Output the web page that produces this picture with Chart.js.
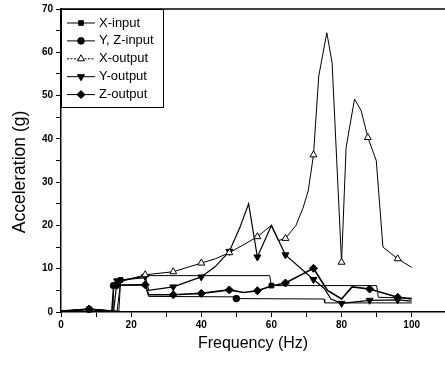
<!DOCTYPE html>
<html>
<head>
<meta charset="utf-8">
<title>Acceleration vs Frequency</title>
<script src="https://cdn.jsdelivr.net/npm/chart.js@4.4.0/dist/chart.umd.min.js"></script>
<style>
  html, body { margin: 0; padding: 0; background: #ffffff; }
  #wrap { position: relative; width: 445px; height: 366px; }
</style>
</head>
<body>
<div id="wrap"><canvas id="chart"></canvas></div>
<script>
/* Valeurs : fréquence (Hz) et accélération (g) */

// X-input (carrés, courbe en escalier)
const xInFreq = [0, 8, 15, 16.5, 17, 24, 25, 59.5, 60, 90, 90.5, 100];
const xInVal = [0.2, 0.6, 0.2, 0.2, 7.4, 7.9, 8.4, 8.4, 6.1, 6.1, 3.4, 3.2];
const xInMarks = [8, 17, 60];

// Y, Z-input (cercles, courbe en escalier)
const yzInFreq = [0, 8, 14.8, 15, 24, 25, 49.8, 50, 75, 75.2, 100];
const yzInVal = [0.2, 0.6, 0.2, 6.1, 6.3, 3.6, 3.5, 3.1, 3.0, 2.1, 2.1];
const yzInMarks = [8, 15, 50];

// X-output (triangles vides)
const xOutFreq = [0, 8, 16, 17, 24, 32, 40, 44, 48, 52, 56, 60, 62, 64, 67, 69, 70.5, 72,
  73.5, 75.8, 77.3, 80, 81.3, 83.7, 85.6, 87.5, 89.9, 91.8, 96, 100];
const xOutVal = [0.2, 0.6, 0.2, 7.0, 8.6, 9.3, 11.3, 12.3, 13.7, 15.5, 17.4, 20, 16.5, 17, 20, 24, 28, 36.3,
  54.5, 64.5, 57.6, 11.5, 38, 49.2, 46.5, 40.3, 35, 15, 12.3, 10.3];
const xOutMarks = [24, 32, 40, 48, 56, 64, 72, 80, 87.5, 96];

// Y-output (triangles pleins pointe en bas)
const yOutFreq = [0, 8, 15, 16, 24, 25, 32, 40, 44, 48, 51, 53.5, 56, 60, 64, 72, 75, 77, 80, 88, 96, 100];
const yOutVal = [0.2, 0.6, 0.2, 7.2, 8.2, 5.0, 5.8, 8.1, 10.5, 14.0, 19.5, 25.0, 12.7, 20.0, 13.2, 7.5, 5.5, 3.0, 2.0, 2.7, 2.8, 2.5];
const yOutMarks = [16, 24, 32, 40, 48, 56, 64, 72, 80, 88, 96];

// Z-output (losanges)
const zOutFreq = [0, 8, 14.5, 15, 16, 24, 25, 32, 40, 48, 52, 56, 60, 64, 72, 74, 76, 80, 83, 88, 96, 100];
const zOutVal = [0.2, 0.7, 0.2, 5.8, 6.2, 6.3, 4.0, 4.0, 4.3, 5.1, 4.5, 4.9, 6.0, 6.7, 10.1, 7.5, 5.0, 3.0, 5.8, 5.3, 3.4, 3.0];
const zOutMarks = [8, 16, 24, 32, 40, 48, 56, 64, 72, 88, 96];

const xTicks = [0, 10, 20, 30, 40, 50, 60, 70, 80, 90, 100];
const yTicks = [0, 5, 10, 15, 20, 25, 30, 35, 40, 45, 50, 55, 60, 65, 70];

const FONT = "'Liberation Sans', Arial, sans-serif";

function toPoints(freq, val) {
  return freq.map((f, i) => ({ x: f, y: val[i] }));
}

/** Construit une série : ligne noire + marqueurs aux fréquences mesurées. */
function makeSeries(label, freq, val, marks, style) {
  return {
    label: label,
    data: toPoints(freq, val),
    showLine: true,
    borderColor: "#000000",
    borderWidth: style.lineWidth,
    backgroundColor: style.fill,
    pointStyle: style.pointStyle,
    rotation: style.rotation || 0,
    pointBorderColor: "#000000",
    pointBackgroundColor: style.fill,
    pointBorderWidth: 1,
    pointRadius: (ctx) => (ctx.raw && marks.includes(ctx.raw.x) ? style.radius : 0),
    pointHoverRadius: 0,
    tension: 0,
    clip: false,
    legendStyle: style
  };
}

const series = [
  makeSeries("X-input", xInFreq, xInVal, xInMarks, { pointStyle: "rect", fill: "#000", radius: 3.3, lineWidth: 1 }),
  makeSeries("Y, Z-input", yzInFreq, yzInVal, yzInMarks, { pointStyle: "circle", fill: "#000", radius: 3.3, lineWidth: 1 }),
  makeSeries("X-output", xOutFreq, xOutVal, xOutMarks, { pointStyle: "triangle", fill: "#fff", radius: 4, lineWidth: 1, dash: [2, 1.5] }),
  makeSeries("Y-output", yOutFreq, yOutVal, yOutMarks, { pointStyle: "triangle", rotation: 180, fill: "#000", radius: 4, lineWidth: 1.2 }),
  makeSeries("Z-output", zOutFreq, zOutVal, zOutMarks, { pointStyle: "rectRot", fill: "#000", radius: 4, lineWidth: 1.6 })
];

// Cadre supérieur, légende encadrée et titre vertical
const decorPlugin = {
  id: "decor",
  afterDraw(chart) {
    const { ctx, chartArea } = chart;
    ctx.save();

    // trait du haut
    ctx.strokeStyle = "#000";
    ctx.lineWidth = 1.5;
    ctx.beginPath();
    ctx.moveTo(chartArea.left, chartArea.top);
    ctx.lineTo(chartArea.right + 2, chartArea.top);
    ctx.stroke();

    // légende
    const bx = chartArea.left, by = chartArea.top, bw = 102, bh = 98;
    ctx.fillStyle = "#fff";
    ctx.fillRect(bx, by, bw, bh);
    ctx.lineWidth = 1;
    ctx.strokeRect(bx + 0.5, by + 0.5, bw, bh);

    ctx.font = "13px " + FONT;
    ctx.textBaseline = "middle";
    chart.data.datasets.forEach((ds, i) => {
      const st = ds.legendStyle;
      const yy = by + 14 + i * 17.9;
      ctx.strokeStyle = "#000";
      ctx.lineWidth = 1;
      ctx.setLineDash(st.dash || []);
      ctx.beginPath();
      ctx.moveTo(bx + 6, yy);
      ctx.lineTo(bx + 34, yy);
      ctx.stroke();
      ctx.setLineDash([]);
      ctx.fillStyle = st.fill;
      Chart.helpers.drawPoint(ctx, {
        pointStyle: st.pointStyle,
        rotation: st.rotation || 0,
        radius: st.radius,
        borderWidth: 1
      }, bx + 20, yy);
      ctx.fillStyle = "#000";
      ctx.fillText(ds.label, bx + 38, yy);
    });

    // titre de l'axe vertical
    ctx.translate(20, 172);
    ctx.rotate(-Math.PI / 2);
    ctx.font = "17.5px " + FONT;
    ctx.textAlign = "center";
    ctx.textBaseline = "middle";
    ctx.fillStyle = "#000";
    ctx.fillText("Acceleration (g)", 0, 0);
    ctx.restore();
  }
};

new Chart(document.getElementById("chart").getContext("2d"), {
  type: "scatter",
  data: { datasets: series },
  options: {
    responsive: true,
    maintainAspectRatio: false,
    animation: false,
    events: [],
    layout: { padding: { left: 0, right: 0, top: 8, bottom: 0 } },
    plugins: {
      legend: { display: false },
      tooltip: { enabled: false }
    },
    scales: {
      x: {
        type: "linear",
        min: 0,
        max: 109.5,
        afterBuildTicks: (scale) => {
          scale.ticks = xTicks.map((v) => ({ value: v }));
        },
        afterFit: (scale) => {
          scale.height = 54;
        },
        border: { display: true, color: "#000", width: 1.5 },
        grid: { drawOnChartArea: false, drawTicks: true, tickLength: 5, color: "#000" },
        ticks: {
          color: "#000",
          padding: 2,
          maxRotation: 0,
          font: { family: FONT, size: 10, weight: "bold" },
          callback: (v) => (v % 20 === 0 ? v : "")
        },
        title: {
          display: true,
          text: "Frequency (Hz)",
          color: "#000",
          font: { family: FONT, size: 16 },
          padding: { top: 0, bottom: 13 }
        }
      },
      y: {
        type: "linear",
        min: 0,
        max: 70,
        afterBuildTicks: (scale) => {
          scale.ticks = yTicks.map((v) => ({ value: v }));
        },
        afterFit: (scale) => {
          scale.width = 61;
        },
        border: { display: true, color: "#000", width: 1.5 },
        grid: { drawOnChartArea: false, drawTicks: true, tickLength: 5, color: "#000" },
        ticks: {
          color: "#000",
          padding: 3,
          font: { family: FONT, size: 10, weight: "bold" },
          callback: (v) => (v % 10 === 0 ? v : "")
        }
      }
    }
  },
  plugins: [decorPlugin]
});
</script>
</body>
</html>
